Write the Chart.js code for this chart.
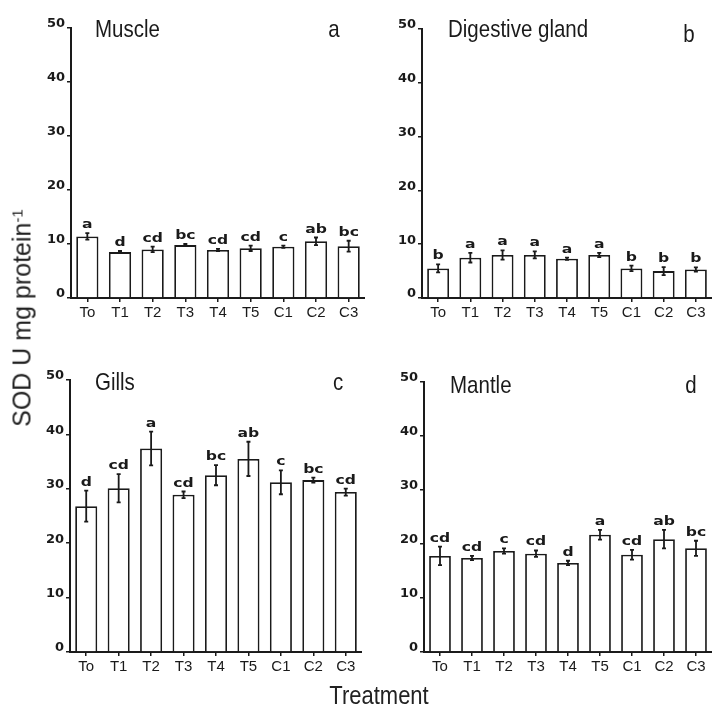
<!DOCTYPE html>
<html>
<head>
<meta charset="utf-8">
<script src="https://cdn.jsdelivr.net/npm/chart.js@4.4.1/dist/chart.umd.min.js"></script>
<style>
    body { margin: 0; background: #fff; }
    #wrap { position: relative; width: 712px; height: 711px; overflow: hidden; background: #fff; }
    .panel { position: absolute; }
    #ytitle {
        position: absolute; left: 22px; top: 318px;
        transform: translate(-50%, -50%) rotate(-90deg);
        font: 25px "Liberation Sans", Arial, sans-serif; color: #222; white-space: nowrap;
    }
    #ytitle sup { font-size: 15px; vertical-align: 8px; }
    #xtitle {
        position: absolute; left: 379px; top: 685px;
        transform: translateX(-50%) scaleY(1.15);
        font: 22px/22px "Liberation Sans", Arial, sans-serif; color: #222; white-space: nowrap;
    }
</style>
</head>
<body>
<div id="wrap">
    <canvas id="chartA" class="panel" style="left:0px;top:0px" width="365" height="330"></canvas>
    <canvas id="chartB" class="panel" style="left:350px;top:0px" width="362" height="330"></canvas>
    <canvas id="chartC" class="panel" style="left:0px;top:350px" width="362" height="334"></canvas>
    <canvas id="chartD" class="panel" style="left:350px;top:350px" width="362" height="334"></canvas>
    <div id="ytitle">SOD U mg protein<sup>-1</sup></div>
    <div id="xtitle">Treatment</div>
</div>
<script>
// treatments
const categories = ['To', 'T1', 'T2', 'T3', 'T4', 'T5', 'C1', 'C2', 'C3'];
const yMax = 50;
const yStep = 10;

// a - muscle
const muscleMean = [11.4, 8.5, 9.0, 9.8, 8.9, 9.2, 9.5, 10.5, 9.6];
const muscleErr = [0.6, 0.2, 0.5, 0.2, 0.2, 0.5, 0.2, 0.7, 1.0];
const muscleLetters = ['a', 'd', 'cd', 'bc', 'cd', 'cd', 'c', 'ab', 'bc'];

// b - digestive gland
const digestMean = [5.5, 7.5, 8.0, 8.0, 7.3, 8.0, 5.5, 5.0, 5.3];
const digestErr = [0.75, 0.9, 0.85, 0.65, 0.2, 0.4, 0.5, 0.75, 0.4];
const digestLetters = ['b', 'a', 'a', 'a', 'a', 'a', 'b', 'b', 'b'];

// c - gills
const gillsMean = [26.8, 30.1, 37.4, 28.9, 32.5, 35.5, 31.2, 31.6, 29.4];
const gillsErr = [2.85, 2.6, 3.1, 0.6, 1.85, 3.15, 2.2, 0.45, 0.65];
const gillsLetters = ['d', 'cd', 'a', 'cd', 'bc', 'ab', 'c', 'bc', 'cd'];

// d - mantle
const mantleMean = [17.8, 17.4, 18.7, 18.2, 16.5, 21.7, 18.0, 20.9, 19.2];
const mantleErr = [1.7, 0.4, 0.5, 0.6, 0.4, 0.9, 0.9, 1.7, 1.4];
const mantleLetters = ['cd', 'cd', 'c', 'cd', 'd', 'a', 'cd', 'ab', 'bc'];

const ink = '#1a1a1a';

// error bars, significance letters, panel titles
const panelPlugin = {
    id: 'panel',
    afterDatasetsDraw(chart, args, opts) {
        const ctx = chart.ctx;
        const ys = chart.scales.y;
        const meta = chart.getDatasetMeta(0);
        const vals = chart.data.datasets[0].data;
        ctx.save();
        ctx.strokeStyle = ink;
        ctx.fillStyle = ink;
        ctx.lineWidth = 1.8;
        meta.data.forEach((bar, i) => {
            const hi = ys.getPixelForValue(vals[i] + opts.errors[i]);
            const lo = ys.getPixelForValue(vals[i] - opts.errors[i]);
            ctx.beginPath();
            ctx.moveTo(bar.x, hi);
            ctx.lineTo(bar.x, lo);
            ctx.moveTo(bar.x - 2, hi);
            ctx.lineTo(bar.x + 2, hi);
            ctx.moveTo(bar.x - 2, lo);
            ctx.lineTo(bar.x + 2, lo);
            ctx.stroke();

            ctx.save();
            ctx.translate(bar.x, hi - 5);
            ctx.scale(1.3, 1);
            ctx.font = 'bold 12px "DejaVu Sans", Arial, sans-serif';
            ctx.textAlign = 'center';
            ctx.textBaseline = 'alphabetic';
            ctx.fillText(opts.letters[i], 0, 0);
            ctx.restore();
        });

        ctx.font = '20.5px "Liberation Sans", Arial, sans-serif';
        ctx.textBaseline = 'alphabetic';
        ctx.textAlign = 'left';
        ctx.save();
        ctx.translate(opts.titleX, opts.titleY);
        ctx.scale(1, 1.2);
        ctx.fillText(opts.title, 0, 0);
        ctx.restore();
        ctx.textAlign = 'center';
        ctx.save();
        ctx.translate(opts.tagX, opts.tagY);
        ctx.scale(1, 1.2);
        ctx.fillText(opts.tag, 0, 0);
        ctx.restore();
        ctx.restore();
    }
};

function makePanel(id, means, errors, letters, title, tag, layout) {
    return new Chart(document.getElementById(id), {
        type: 'bar',
        data: {
            labels: categories,
            datasets: [{
                data: means,
                backgroundColor: '#ffffff',
                borderColor: ink,
                borderWidth: 1.8,
                barPercentage: 0.68,
                categoryPercentage: 1.0
            }]
        },
        options: {
            responsive: false,
            animation: false,
            layout: {
                padding: { top: layout.padTop, left: 0, right: 0, bottom: 0 }
            },
            plugins: {
                legend: { display: false },
                tooltip: { enabled: false },
                panel: {
                    errors: errors,
                    letters: letters,
                    title: title,
                    tag: tag,
                    titleX: layout.titleX,
                    titleY: layout.titleY,
                    tagX: layout.tagX,
                    tagY: layout.tagY
                }
            },
            scales: {
                y: {
                    min: 0,
                    max: yMax,
                    ticks: {
                        stepSize: yStep,
                        color: ink,
                        padding: 2,
                        labelOffset: -4,
                        font: { family: '"DejaVu Sans", Arial, sans-serif', size: 13, weight: 'bold' }
                    },
                    grid: {
                        drawOnChartArea: false,
                        tickLength: 4,
                        color: ink,
                        lineWidth: 1.5
                    },
                    border: { display: true, color: ink, width: 2 },
                    afterFit: function (scale) {
                        scale.width = layout.yWidth;
                    }
                },
                x: {
                    ticks: {
                        color: ink,
                        padding: 2,
                        maxRotation: 0,
                        font: { family: '"Liberation Sans", Arial, sans-serif', size: 15 }
                    },
                    grid: {
                        offset: false,
                        drawOnChartArea: false,
                        tickLength: 4,
                        color: ink,
                        lineWidth: 1.5
                    },
                    border: { display: true, color: ink, width: 2 },
                    afterFit: function (scale) {
                        scale.height = 32;
                    }
                }
            }
        },
        plugins: [panelPlugin]
    });
}

makePanel('chartA', muscleMean, muscleErr, muscleLetters, 'Muscle', 'a',
    { padTop: 28, yWidth: 71, titleX: 95, titleY: 37, tagX: 334, tagY: 37 });
makePanel('chartB', digestMean, digestErr, digestLetters, 'Digestive gland', 'b',
    { padTop: 29, yWidth: 72, titleX: 98, titleY: 37, tagX: 339, tagY: 42 });
makePanel('chartC', gillsMean, gillsErr, gillsLetters, 'Gills', 'c',
    { padTop: 30, yWidth: 70, titleX: 95, titleY: 40, tagX: 338, tagY: 40 });
makePanel('chartD', mantleMean, mantleErr, mantleLetters, 'Mantle', 'd',
    { padTop: 32, yWidth: 74, titleX: 100, titleY: 43, tagX: 341, tagY: 43 });
</script>
</body>
</html>
